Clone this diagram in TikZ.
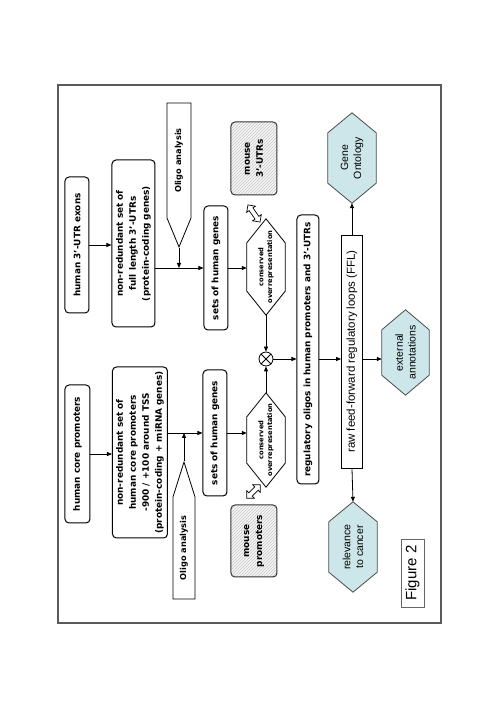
\documentclass[tikz,border=0pt]{standalone}
\usepackage{fontspec}
\setmainfont{Liberation Sans}
\newfontfamily\verafont{DejaVu Sans}
\usetikzlibrary{positioning,calc,shapes.symbols,shapes.arrows,patterns,arrows.meta}

\definecolor{hexcyan}{RGB}{204,230,234}
\definecolor{framegray}{RGB}{90,90,90}
\pgfdeclarelayer{background}
\pgfsetlayers{background,main}

\begin{document}
\begin{tikzpicture}[x=1pt,y=1pt,>={Triangle[length=5pt,width=4pt]},
    box/.style={draw,line width=1pt,rounded corners=4pt,align=center,inner sep=1pt,
      font=\verafont\bfseries\fontsize{8.9}{13}\selectfont},
    plainbox/.style={draw,line width=.8pt,align=center,inner sep=1pt,
      font=\fontsize{11.5}{13}\selectfont},
    oligo/.style={draw,line width=.8pt,signal,inner sep=1pt,
      font=\verafont\bfseries\fontsize{8.2}{10}\selectfont},
    conshex/.style={align=center,inner sep=0pt,font=\verafont\bfseries\fontsize{6.7}{8.8}\selectfont},
    outhex/.style={align=center,inner sep=0pt,font=\fontsize{10.5}{13}\selectfont},
    mousebox/.style={box,draw=black!80,preaction={fill=gray!6},pattern=north east lines,
      pattern color=gray!45},
    dblarrow/.style={double arrow,draw,line width=.7pt,inner sep=2pt,double arrow head extend=3pt,
      double arrow head indent=0pt},
    link/.style={->,line width=.8pt}]
\useasboundingbox (-496,0) rectangle (0,702);
\begin{scope}[rotate=90,transform shape]
\draw[framegray,line width=1.4pt] (79,55) rectangle (617,438);

\node[box,minimum width=138,minimum height=25] (humP) at (248,418.5) {human core promoters};
\node[box,minimum width=136,minimum height=24] (humU) at (457,419) {human 3’-UTR exons};
\node[box,minimum width=171,minimum height=55] (nrP) at (249.5,356)
  {non-redundant set of\\human core promoters\\-900 / +100 around TSS\\(protein-coding + miRNA genes)};
\node[box,minimum width=167,minimum height=43] (nrU) at (458.5,362.5)
  {non-redundant set of\\full length 3’-UTRs\\(protein-coding genes)};
\node[oligo,signal to=east,signal pointer angle=35,minimum width=137,minimum height=22] (oliP) at (154,312) {Oligo analysis};
\node[oligo,signal to=west,signal pointer angle=45,minimum width=144,minimum height=24] (oliU) at (541.5,317) {Oligo analysis};
\node[box,minimum width=126,minimum height=24] (setsP) at (269,281) {sets of human genes};
\node[box,minimum width=124,minimum height=24] (setsU) at (434,280) {sets of human genes};
\node[conshex,minimum width=94,minimum height=38] (hexP) at (262,230) {conserved\\overrepresentation};
\node[conshex,minimum width=96,minimum height=38] (hexU) at (435,230) {conserved\\overrepresentation};
\node[mousebox,minimum width=72,minimum height=46] (mouseP) at (161,242) {mouse\\promoters};
\node[mousebox,minimum width=73,minimum height=46] (mouseU) at (543.5,242) {mouse\\3’-UTRs};
\node[dblarrow,rotate=-45,minimum height=19] (swapP) at (210.5,242.5) {};
\node[dblarrow,rotate=35,minimum height=21] (swapU) at (488.5,242) {};
\node[draw,circle,line width=.8pt,minimum size=14,inner sep=0pt] (mix) at (343,230) {};
\draw[line width=.8pt] (mix.north east) -- (mix.south west) (mix.north west) -- (mix.south east);
\node[box,minimum width=269,minimum height=22] (reg) at (352.5,188)
  {regulatory oligos in human promoters and 3’-UTRs};
\node[plainbox,minimum width=233,minimum height=21] (ffl) at (350.5,144)
  {raw feed-forward regulatory loops (FFL)};
\node[outhex,minimum width=90,minimum height=48] (go) at (544,144) {Gene\\Ontology};
\node[outhex,minimum width=90,minimum height=48] (rel) at (155,143) {relevance\\to cancer};
\node[outhex,minimum width=85,minimum height=47] (ext) at (349.5,90.5) {external\\annotations};
\node[plainbox,draw=black!60,minimum width=68,minimum height=23,font=\fontsize{15}{17}\selectfont] (fig) at (129,83.5) {Figure 2};

\begin{pgfonlayer}{background}
\foreach \n/\p in {hexP/24,hexU/24}
  \draw[line width=.8pt] (\n.west) -- ($(\n.north west)+(\p,0)$) -- ($(\n.north east)+(-\p,0)$)
    -- (\n.east) -- ($(\n.south east)+(-\p,0)$) -- ($(\n.south west)+(\p,0)$) -- cycle;
\foreach \n/\p in {go/20,rel/20,ext/20}
  \draw[black!70,line width=.8pt,fill=hexcyan] (\n.west) -- ($(\n.north west)+(\p,0)$) -- ($(\n.north east)+(-\p,0)$)
    -- (\n.east) -- ($(\n.south east)+(-\p,0)$) -- ($(\n.south west)+(\p,0)$) -- cycle;
\end{pgfonlayer}

\draw[link] (humP.south) -- (humP.south |- nrP.north);
\draw[link] (humU.south) -- (humU.south |- nrU.north);
\draw[link] (nrP.south -| setsP.north) -- (setsP.north);
\draw[link] (nrU.south -| setsU.north) -- (setsU.north);
\draw[link] (oliP.east) -- (oliP.east -| setsP.north);
\draw[link] (oliU.west) -- (oliU.west -| setsU.north);
\draw[link] (setsP.south) -- (setsP.south |- hexP.north);
\draw[link] (setsU.south) -- (setsU.south |- hexU.north);
\draw[link] (hexP.east) -- (mix.west);
\draw[link] (hexU.west) -- (mix.east);
\draw[link] (mix.south) -- (mix.south |- reg.north);
\draw[link] (mix.south |- reg.south) -- (mix.south |- ffl.north);
\draw[link] (ffl.east) -- (go.west);
\draw[link] (ffl.west) -- (rel.east);
\draw[link] (mix.south |- ffl.south) -- (mix.south |- ext.north);
\end{scope}
\end{tikzpicture}
\end{document}
